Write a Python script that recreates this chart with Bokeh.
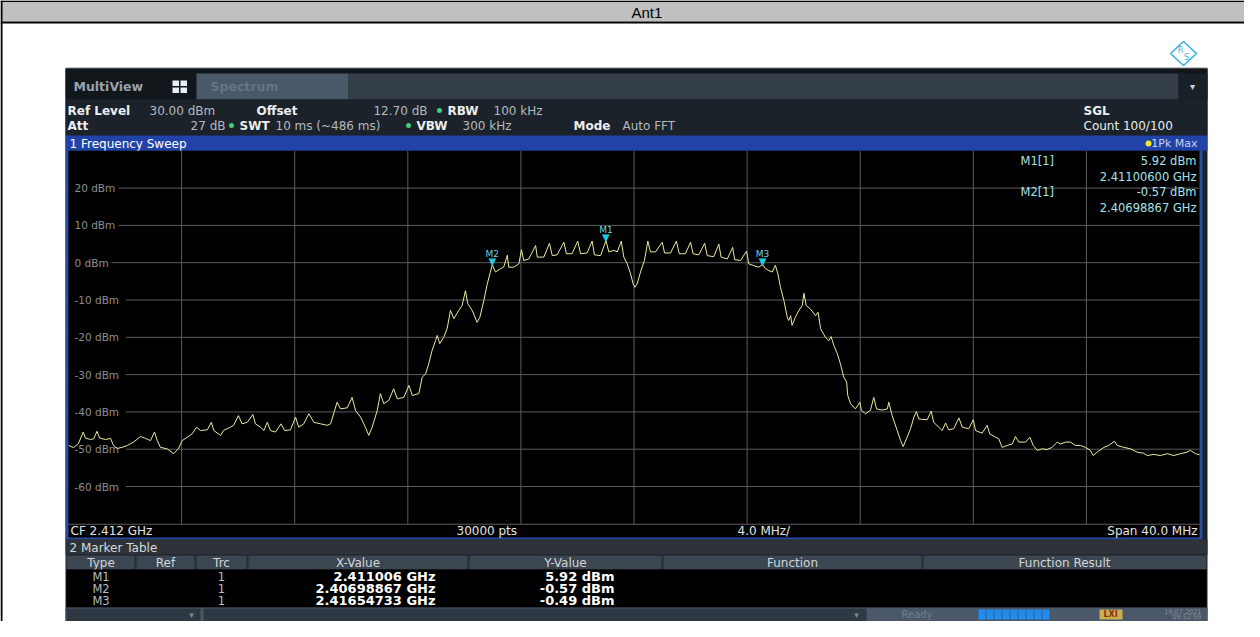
from bokeh.plotting import figure
from bokeh.models import Range1d
from bokeh.core.properties import value
from bokeh.embed import file_html
from bokeh.resources import INLINE

# ---------------- data ----------------
title_text = "Ant1"
center_ghz = 2.412
span_mhz = 40.0
sweep_points = 30000
ref_level_dbm = 30.0
display_range_db = 100.0
dbm_ticks = [20, 10, 0, -10, -20, -30, -40, -50, -60]

offset_mhz = [-19.99,-19.82,-19.65,-19.48,-19.40,-19.22,-19.11,-18.99,-18.90,-18.69,
              -18.51,-18.41,-18.28,-18.10,-17.92,-17.70,-17.45,-17.28,-17.10,-16.96,
              -16.86,-16.75,-16.51,-16.28,-16.11,-15.98,-15.80,-15.63,-15.47,-15.33,
              -15.09,-14.95,-14.86,-14.62,-14.52,-14.39,-14.27,-14.16,-13.99,-13.86,
              -13.68,-13.48,-13.39,-13.21,-13.09,-12.97,-12.86,-12.68,-12.48,-12.36,
              -12.15,-11.97,-11.86,-11.68,-11.50,-11.32,-11.08,-10.85,-10.73,-10.50,
              -10.38,-10.14,-9.97,-9.85,-9.67,-9.50,-9.38,-9.26,-9.08,-8.97,
              -8.85,-8.67,-8.50,-8.37,-8.14,-7.96,-7.84,-7.61,-7.49,-7.37,
              -7.26,-7.14,-7.02,-6.96,-6.87,-6.73,-6.61,-6.49,-6.37,-6.20,
              -6.08,-5.96,-5.88,-5.72,-5.55,-5.45,-5.31,-5.19,-5.08,-5.01,
              -4.90,-4.72,-4.61,-4.48,-4.43,-4.25,-4.07,-3.98,-3.90,-3.72,
              -3.48,-3.42,-3.19,-2.99,-2.89,-2.72,-2.48,-2.39,-2.19,-1.99,
              -1.89,-1.66,-1.48,-1.40,-1.18,-0.99,-0.89,-0.71,-0.59,-0.45,
              -0.36,-0.24,-0.12,-0.03,0.03,0.11,0.23,0.37,0.49,0.58,
              0.76,1.00,1.08,1.29,1.50,1.60,1.82,2.00,2.09,2.29,
              2.50,2.59,2.82,3.00,3.08,3.30,3.49,3.56,3.77,3.98,
              4.06,4.24,4.41,4.55,4.65,4.77,4.89,5.00,5.09,5.18,
              5.30,5.42,5.47,5.54,5.59,5.71,5.83,5.95,6.01,6.09,
              6.24,6.42,6.51,6.60,6.77,6.89,6.97,7.07,7.19,7.30,
              7.42,7.52,7.56,7.66,7.83,7.99,8.04,8.19,8.36,8.48,
              8.58,8.78,8.96,9.01,9.13,9.31,9.43,9.52,9.66,9.78,
              9.90,9.99,10.07,10.37,10.51,10.60,10.78,10.90,11.02,11.13,
              11.31,11.49,11.61,11.84,12.00,12.08,12.31,12.49,12.58,12.79,
              12.90,13.02,13.20,13.38,13.49,13.61,13.85,14.00,14.12,14.26,
              14.44,14.61,14.79,14.97,15.08,15.26,15.44,15.61,15.79,15.97,
              16.14,16.24,16.38,16.62,16.79,16.99,17.09,17.32,17.56,17.80,
              18.03,18.15,18.38,18.62,18.86,19.09,19.33,19.56,19.68,19.86,20.00]

level_dbm = [-49.0,-49.6,-48.5,-45.4,-47.0,-47.4,-47.2,-45.2,-47.0,-47.4,
             -47.1,-49.0,-49.8,-49.5,-49.0,-48.1,-46.6,-47.1,-47.7,-45.4,
             -47.7,-49.5,-49.9,-51.2,-49.8,-47.7,-46.8,-45.9,-44.1,-45.0,
             -44.8,-42.8,-45.0,-46.3,-45.0,-44.5,-44.1,-43.6,-41.0,-43.2,
             -42.8,-40.7,-43.2,-44.1,-45.0,-42.8,-45.0,-45.4,-43.2,-45.0,
             -44.8,-41.4,-44.1,-43.2,-40.5,-42.8,-43.2,-43.6,-43.2,-37.4,
             -39.2,-38.9,-36.1,-39.6,-41.4,-44.1,-46.3,-44.1,-39.6,-35.1,
             -37.8,-36.9,-33.8,-36.5,-36.1,-32.9,-35.6,-35.1,-30.7,-29.8,
             -27.1,-23.5,-20.9,-19.5,-21.7,-20.0,-17.7,-12.8,-15.0,-12.8,
             -11.5,-7.5,-11.0,-12.8,-16.0,-14.6,-10.1,-5.7,-2.5,-0.57,
             -2.5,-1.6,-1.2,2.0,-1.2,-1.2,-0.3,3.5,0.6,1.0,
             4.6,1.5,1.5,5.2,1.9,2.1,5.5,2.4,2.4,5.8,
             2.4,2.6,5.8,2.1,1.9,5.92,2.9,3.3,2.9,5.8,
             1.5,-0.3,-3.0,-5.7,-6.6,-5.7,-2.5,0.6,5.8,2.9,
             2.9,5.5,2.6,2.6,5.8,2.4,2.4,5.5,2.4,2.1,
             5.2,1.9,1.6,5.0,1.5,1.0,4.1,0.8,0.6,3.1,
             -0.3,-0.8,-1.2,-0.49,-1.6,-2.1,-2.5,-0.7,-3.0,-6.6,
             -10.1,-14.6,-15.5,-14.2,-16.8,-14.6,-12.8,-11.5,-8.2,-11.5,
             -12.4,-14.2,-13.3,-17.7,-20.0,-20.9,-19.8,-22.2,-24.4,-27.1,
             -30.7,-32.0,-35.6,-37.8,-39.2,-37.4,-39.6,-40.5,-39.6,-36.1,
             -39.2,-39.5,-39.2,-37.4,-41.0,-45.0,-47.7,-49.3,-46.8,-44.5,
             -41.4,-39.9,-41.9,-42.1,-39.8,-42.8,-44.1,-45.0,-43.0,-44.8,
             -44.5,-41.6,-44.1,-44.5,-42.1,-45.0,-45.7,-43.6,-45.9,-46.8,
             -47.2,-49.5,-49.0,-48.6,-46.6,-48.1,-48.1,-46.8,-49.0,-50.3,
             -49.9,-50.1,-49.5,-48.1,-48.6,-48.1,-48.1,-49.0,-49.0,-49.5,
             -50.3,-51.7,-50.8,-49.5,-49.0,-47.9,-49.0,-49.5,-49.9,-50.8,
             -51.1,-51.7,-51.4,-51.7,-51.2,-51.7,-51.2,-50.8,-50.3,-51.2,-51.5]

marker_names = ["M1", "M2", "M3"]
marker_freq_ghz = [2.411006, 2.40698867, 2.41654733]
marker_level_dbm = [5.92, -0.57, -0.49]
marker_trace = ["1", "1", "1"]
table_columns = ["Type", "Ref", "Trc", "X-Value", "Y-Value", "Function", "Function Result"]

freq_ghz = [center_ghz + o / 1000.0 for o in offset_mhz]

# ---------------- layout (reference pixel geometry) ----------------
CX0, CX1, CY0, CY1 = 0, 1244, 0, 621
PL, PR, PT, PB = 68.0, 1199.0, 150.3, 523.3
FONT = "DejaVu Sans"

p = figure(width=CX1 - CX0, height=CY1 - CY0,
           x_range=Range1d(CX0, CX1), y_range=Range1d(CY1, CY0),
           output_backend="svg", toolbar_location=None,
           x_axis_location=None, y_axis_location=None, min_border=0)
p.grid.visible = False
p.outline_line_color = None
p.background_fill_color = "#ffffff"
p.border_fill_color = "#ffffff"

f_lo = center_ghz - span_mhz / 2000.0
f_hi = center_ghz + span_mhz / 2000.0
gpp = (f_hi - f_lo) / (PR - PL)
p.extra_x_ranges = {"freq": Range1d(f_lo - (PL - CX0) * gpp, f_hi + (CX1 - PR) * gpp)}
db_lo = ref_level_dbm - display_range_db
dpp = display_range_db / (PB - PT)
p.extra_y_ranges = {"dbm": Range1d(db_lo - (CY1 - PB) * dpp, ref_level_dbm + (PT - CY0) * dpp)}


def box(l, r, t, b, color):
    p.quad(left=[l], right=[r], top=[t], bottom=[b], fill_color=color, line_color=None)


def put(x, y, s, size=12, color="#e6e6e6", bold=False, align="left", font=FONT, baseline="middle"):
    p.text(x=[x], y=[y], text=[s], text_font=value(font), text_font_size=value(f"{size}px"),
           text_color=color, text_font_style="bold" if bold else "normal",
           text_align=align, text_baseline=baseline)


# page table frame + header
box(CX0, CX1, 0, 21, "#c0c0c0")
box(CX0, CX1, 0, 1.5, "#000000")
box(CX0, CX1, 21, 23, "#000000")
box(0, 2, 0, CY1, "#000000")
put(631, 11.5, title_text, size=15, color="#000000", font="Liberation Sans Narrow, Liberation Sans")

# R&S logo
p.patch(x=[1183, 1196, 1183, 1170], y=[41, 53, 65, 53], fill_color=None, line_color="#3ab2dc", line_width=1.6)
put(1180, 50, "R", size=8, color="#3ab2dc", align="center")
put(1186, 57, "S", size=8, color="#3ab2dc", align="center")

# instrument screenshot chrome
box(65, 1207, 67, 68, "#8c939a")
box(65, 1207, 68, CY1, "#1b2128")
box(65, 1207, 68, 99, "#12171c")
box(196, 348, 73, 99, "#4a596a")
box(348, 1178, 73, 99, "#343e48")
box(1178, 1207, 73, 99, "#1a2027")
put(1192, 86, "▾", size=10, color="#d0d6dc", align="center")
put(73, 86, "MultiView", size=12.5, color="#98a3ae", bold=True)
for gx, gy in [(172, 80), (180, 80), (172, 87), (180, 87)]:
    box(gx, gx + 6.5, gy, gy + 5.5, "#e8eef8")
put(210, 86, "Spectrum", size=12.5, color="#637487", bold=True)

box(65, 1207, 99, 135, "#1b2229")
LBL, VAL = "#eceef0", "#b4bac0"
put(67, 110, "Ref Level", bold=True, color=LBL)
put(149, 110, f"{ref_level_dbm:.2f} dBm", color=VAL)
put(256, 110, "Offset", bold=True, color=LBL)
put(427, 110, "12.70 dB", color=VAL, align="right")
put(447, 110, "RBW", bold=True, color=LBL)
put(493, 110, "100 kHz", color=VAL)
put(67, 125, "Att", bold=True, color=LBL)
put(225, 125, "27 dB", color=VAL, align="right")
put(239, 125, "SWT", bold=True, color=LBL)
put(275, 125, "10 ms (~486 ms)", color=VAL)
put(416, 125, "VBW", bold=True, color=LBL)
put(462, 125, "300 kHz", color=VAL)
put(573, 125, "Mode", bold=True, color=LBL)
put(622, 125, "Auto FFT", color=VAL)
p.scatter(x=[439, 231, 408], y=[110, 125, 125], size=5, color="#3fd07a", line_color=None)
put(1083, 110, "SGL", bold=True, color=LBL)
put(1083, 125, "Count 100/100", color=LBL)

box(65, 1207, 135, 150.3, "#2143a8")
put(69, 143, "1 Frequency Sweep", color="#ffffff")
p.scatter(x=[1148], y=[143], size=6, color="#f2e62a", line_color=None)
put(1197, 143, "1Pk Max", size=11, color="#c8d2ec", align="right")

# plot frame
box(65, 1202, 150.3, 539, "#2b4c9e")
box(PL, PR, PT, 537, "#000000")

# grid
vx = [f_lo + k * (span_mhz / 10.0) / 1000.0 for k in range(1, 10)]
p.segment(x0=vx, x1=vx, y0=[db_lo] * 9, y1=[ref_level_dbm] * 9,
          x_range_name="freq", y_range_name="dbm", line_color="#5c5c5c", line_width=1)
tick_text = [f"{t} dBm" for t in dbm_ticks]
p.segment(x0=[74 + 7.2 * len(s) + 1 for s in tick_text], x1=[PR] * 9, y0=dbm_ticks, y1=dbm_ticks,
          y_range_name="dbm", line_color="#5c5c5c", line_width=1)
box(PL, PR, PB, PB + 1, "#5c5c5c")
p.text(x=[74] * 9, y=dbm_ticks, text=tick_text, y_range_name="dbm",
       text_font=value(FONT), text_font_size=value("10.5px"), text_color="#8e8e8e",
       text_baseline="middle", text_align="left")

# trace
p.line(x=freq_ghz, y=level_dbm, x_range_name="freq", y_range_name="dbm",
       line_color="#ece9a2", line_width=1)

# markers
p.text(x=marker_freq_ghz, y=marker_level_dbm, text=["▼"] * 3, x_range_name="freq", y_range_name="dbm",
       text_font=value(FONT), text_font_size=value("10px"), text_color="#25c6de",
       text_align="center", text_baseline="bottom", y_offset=2)
p.text(x=marker_freq_ghz, y=marker_level_dbm, text=marker_names, x_range_name="freq", y_range_name="dbm",
       text_font=value(FONT), text_font_size=value("9px"), text_color="#6fd3e2",
       text_align="center", text_baseline="alphabetic", y_offset=-11)

# marker info (top right)
INFO = "#a6e2ea"
for i, yy in [(0, 160), (1, 191)]:
    put(1020, yy, f"{marker_names[i]}[{marker_trace[i]}]", size=11.5, color=INFO)
    put(1196, yy, f"{marker_level_dbm[i]:.2f} dBm", size=11.5, color=INFO, align="right")
    put(1196, yy + 16, f"{marker_freq_ghz[i]:.8f} GHz", size=11.5, color=INFO, align="right")

# bottom info bar
put(70, 530, f"CF {center_ghz:.3f} GHz", color="#e4e4e4")
put(456, 530, f"{sweep_points} pts", color="#e4e4e4")
put(737, 530, f"{span_mhz / 10:.1f} MHz/", color="#e4e4e4")
put(1197, 530, f"Span {span_mhz:.1f} MHz", color="#e4e4e4", align="right")

# marker table
box(65, 1207, 539, 554, "#2d3338")
put(69, 547, "2 Marker Table", color="#d8dadc")
box(66, 1206, 555, 569, "#3b4650")
col_edges = [66, 135, 195, 247, 468, 662, 922, 1206]
for e in col_edges[1:-1]:
    box(e - 1, e + 1, 555, 569, "#252d35")
for j, name in enumerate(table_columns):
    put((col_edges[j] + col_edges[j + 1]) / 2, 562, name, color="#d2d6da", align="center")
box(66, 1206, 569, 607, "#000000")
for i, yy in enumerate([576, 588, 600]):
    put((col_edges[0] + col_edges[1]) / 2, yy, marker_names[i], size=11.5, color="#b8bcc0", align="center")
    put((col_edges[2] + col_edges[3]) / 2, yy, marker_trace[i], size=11.5, color="#b8bcc0", align="center")
    put(435, yy, f"{marker_freq_ghz[i]:.8f}".rstrip("0") + " GHz", size=13, color="#ffffff", bold=True, align="right")
    put(614, yy, f"{marker_level_dbm[i]:.2f} dBm", size=13, color="#ffffff", bold=True, align="right")

# status bar (squeezed to fit the canvas)
box(65, 1207, 607, CY1, "#4a5869")
box(66, 200, 608, CY1, "#2e3842")
box(203, 866, 608, CY1, "#2e3842")
put(191, 614, "▾", size=9, color="#7d8a97", align="center")
put(856, 614, "▾", size=9, color="#7d8a97", align="center")
put(901, 614, "Ready", size=10, color="#6f7f90")
for k in range(9):
    box(978 + k * 8, 978 + k * 8 + 7, 609, 619, "#1e8cf0")
box(1099, 1122, 609, 619, "#c9b04a")
put(1110, 614, "LXI", size=8, color="#8a2a1a", bold=True, align="center")
put(1201, 610.5, "19.07.2021", size=6.5, color="#7f8e9d", align="right")
put(1201, 616.5, "09:52:59", size=6.5, color="#7f8e9d", align="right")

open("out.html", "w").write(file_html(p, INLINE))
